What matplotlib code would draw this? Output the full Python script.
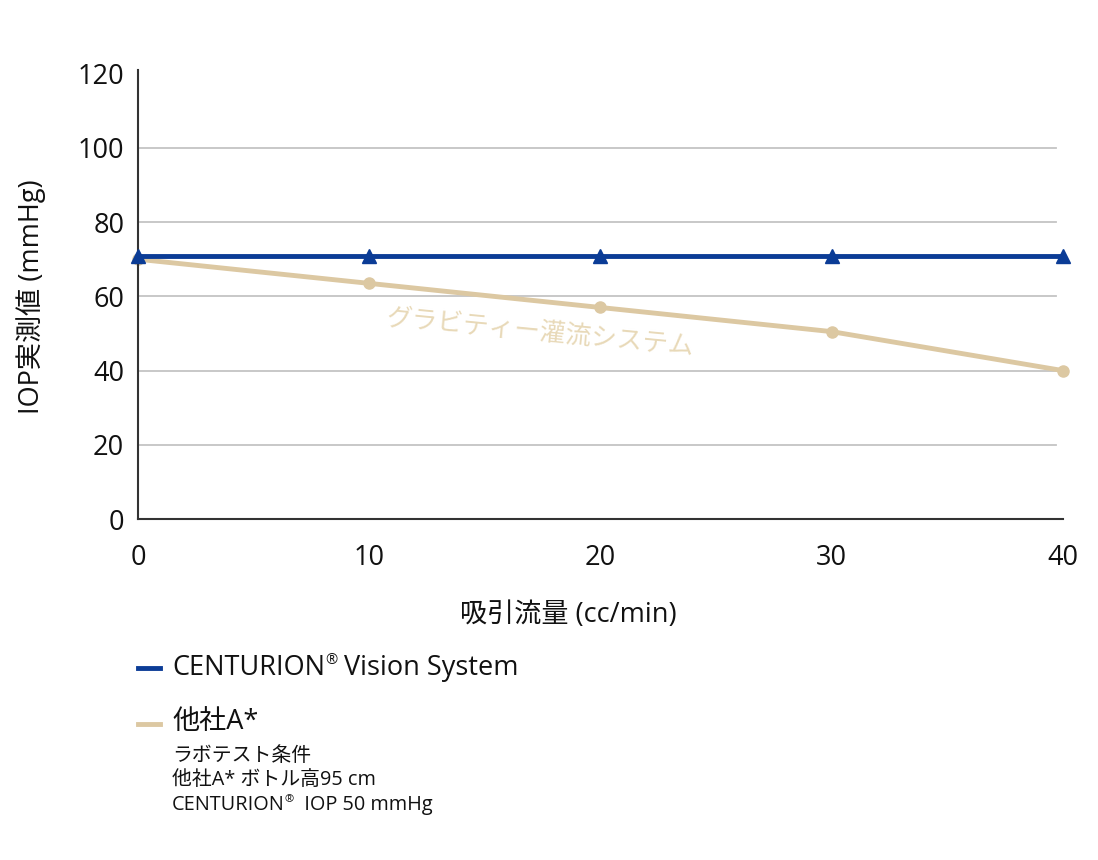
import matplotlib
matplotlib.use("Agg")
import matplotlib.pyplot as plt
from matplotlib.lines import Line2D

plt.rcParams['font.family'] = ['Open Sans', 'Noto Sans CJK JP', 'DejaVu Sans']

# dati
flusso = [0, 10, 20, 30, 40]
iop_centurion = [71, 71, 71, 71, 71]
iop_altro = [70, 63.5, 57, 50.5, 40]
y_ticks = [0, 20, 40, 60, 80, 100, 120]

blu = "#0b3c96"
beige = "#dcc8a2"

fig = plt.figure(figsize=(10.98, 8.6), dpi=100)
ax = fig.add_axes([0.1257, 0.3965, 0.8423, 0.5221])

# griglia orizzontale
for v in y_ticks[1:-1]:
    ax.axhline(v, xmin=0, xmax=0.993, color="#c4c4c4", lw=1.3, zorder=0)

ax.plot(flusso, iop_altro, color=beige, lw=3.5, marker="o", markersize=8, zorder=2, clip_on=False)
ax.plot(flusso, iop_centurion, color=blu, lw=3.5, marker="^", markersize=9.5, zorder=3, clip_on=False)

ax.set_xlim(0, 40)
ax.set_ylim(0, 121)
ax.set_xticks(flusso)
ax.set_yticks(y_ticks)
ax.tick_params(length=0, labelsize=19.5, colors="#111111", pad=10)
ax.tick_params(axis="x", pad=18)

for s in ["top", "right"]:
    ax.spines[s].set_visible(False)
for s in ["left", "bottom"]:
    ax.spines[s].set_color("#333333")
    ax.spines[s].set_linewidth(1.5)

# titoli degli assi
fig.text(31/1098, 1-297/860, "IOP実測値 (mmHg)", fontsize=19.5, color="#111111",
         rotation=90, ha="center", va="center")
fig.text(568/1098, 1-615/860, "吸引流量 (cc/min)", fontsize=19.5, color="#111111",
         ha="center", va="center")

# etichetta sulla linea
ax.text(17.4, 50.1, "グラビティー灌流システム", color="#e8d9b8", fontsize=18.5,
        rotation=-5.5, ha="center", va="center", rotation_mode="anchor")

# legenda personalizzata
fig.add_artist(Line2D([138/1098, 160/1098], [1-668/860, 1-668/860], color=blu, lw=3.5))
fig.add_artist(Line2D([138/1098, 160/1098], [1-724/860, 1-724/860], color=beige, lw=3.5))

fig.canvas.draw()
renderer = fig.canvas.get_renderer()

def testo_con_r(x_px, y_px, prima, dopo, size, small):
    t1 = fig.text(x_px/1098, 1-y_px/860, prima, fontsize=size, va="center", color="#111111")
    bb = t1.get_window_extent(renderer)
    t2 = fig.text(bb.x1/1098, 1-y_px/860 + size*0.26/860*1.389, "®",
                  fontsize=small, va="center", color="#111111")
    bb2 = t2.get_window_extent(renderer)
    fig.text(bb2.x1/1098, 1-y_px/860, dopo, fontsize=size, va="center", color="#111111")

testo_con_r(172, 668, "CENTURION", " Vision System", 19.5, 10.5)
fig.text(172/1098, 1-722/860, "他社A*", fontsize=19.5, va="center", color="#111111")
fig.text(172/1098, 1-756/860, "ラボテスト条件", fontsize=14.3, va="center", color="#111111")
fig.text(172/1098, 1-780/860, "他社A* ボトル高95 cm", fontsize=14.3, va="center", color="#111111")
testo_con_r(172, 805, "CENTURION", "  IOP 50 mmHg", 14.3, 8)

fig.savefig("out.png", dpi=100)
